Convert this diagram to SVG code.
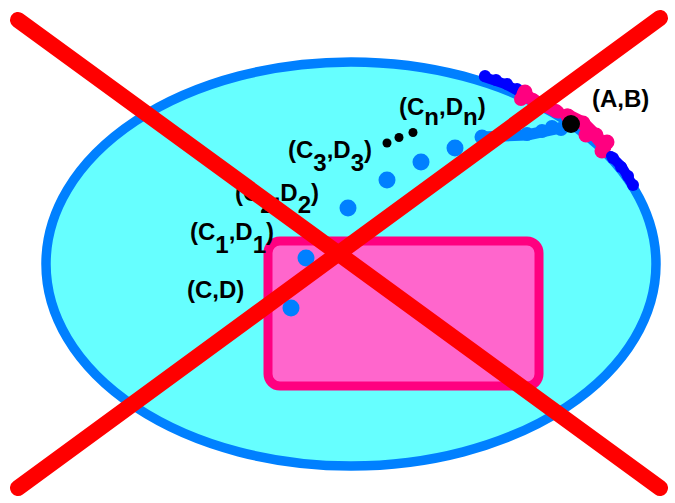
<svg xmlns="http://www.w3.org/2000/svg" width="675" height="503" viewBox="0 0 675 503">
<style>
.lbl{font-family:"Liberation Sans",Arial,sans-serif;font-weight:bold;font-size:24px;fill:#000}
.dot{fill:#0080ff}
.db{fill:#0000ff}
.pk{fill:#ff0080}
.x{stroke:#ff0000;stroke-width:16;stroke-linecap:round;fill:none}
</style>
<rect width="675" height="503" fill="#ffffff"/>
<g id="ellipse">
<ellipse cx="351" cy="264" rx="305" ry="202" fill="#66ffff" stroke="#0080ff" stroke-width="9.5"/>
</g>
<g id="rect">
<rect x="268" y="241" width="271" height="145" rx="12" fill="#ff66cc" stroke="#ff0080" stroke-width="9"/>
</g>
<g id="boundary">
<polyline points="484,77 505,84 520,92" fill="none" stroke="#0000ff" stroke-width="10" stroke-linecap="round" stroke-linejoin="round"/>
<circle class="db" cx="485" cy="76" r="6"/><circle class="db" cx="496" cy="80" r="6"/><circle class="db" cx="507" cy="84" r="6"/><circle class="db" cx="517" cy="89" r="6"/>
<polyline points="523,94 535,101 558,112" fill="none" stroke="#ff0080" stroke-width="13" stroke-linecap="round" stroke-linejoin="round"/>
<circle class="pk" cx="525" cy="92" r="7.5"/><circle class="pk" cx="521" cy="99" r="7"/><circle class="pk" cx="533" cy="100" r="7"/><circle class="pk" cx="546" cy="106" r="7"/><circle class="pk" cx="556" cy="111" r="7"/>
<polyline points="482,137 527,135 560,128" fill="none" stroke="#0080ff" stroke-width="11" stroke-linecap="round" stroke-linejoin="round"/>
<circle class="dot" cx="482" cy="137" r="7.5"/><circle class="dot" cx="527" cy="134" r="7"/><circle class="dot" cx="542" cy="131" r="7"/><circle class="dot" cx="552" cy="127" r="7"/><circle class="dot" cx="561" cy="129" r="7"/>
<polyline points="567,115 583,123 595,135 605,147" fill="none" stroke="#ff0080" stroke-width="13" stroke-linecap="round" stroke-linejoin="round"/>
<circle class="pk" cx="568" cy="116" r="7.5"/><circle class="pk" cx="583" cy="123" r="7.5"/><circle class="pk" cx="586" cy="135" r="7.5"/><circle class="pk" cx="596" cy="135" r="7.5"/><circle class="pk" cx="607" cy="142" r="7.5"/><circle class="pk" cx="602" cy="151" r="7.5"/>
<polyline points="611,156 622,167 632,184" fill="none" stroke="#0000ff" stroke-width="10" stroke-linecap="round" stroke-linejoin="round"/>
<circle class="db" cx="613" cy="158" r="6"/><circle class="db" cx="621" cy="167" r="6"/><circle class="db" cx="628" cy="176" r="6"/><circle class="db" cx="633" cy="185" r="6"/>
</g>
<g id="point-AB">
<circle cx="571" cy="124" r="9" fill="#000"/>
<text class="lbl" x="592" y="107">(A,B)</text>
</g>
<g id="points">
<circle class="dot" cx="291" cy="308" r="8.5"/>
<circle class="dot" cx="306" cy="258" r="8.5"/>
<circle class="dot" cx="348" cy="208" r="8.5"/>
<circle class="dot" cx="387" cy="180" r="8.5"/>
<circle class="dot" cx="421" cy="162" r="8.5"/>
<circle class="dot" cx="455" cy="148" r="8.5"/>
<circle cx="387" cy="143" r="4.5" fill="#000"/>
<circle cx="399" cy="137.5" r="4.5" fill="#000"/>
<circle cx="413" cy="132.5" r="4.5" fill="#000"/>
</g>
<g id="labels">
<text class="lbl" x="187" y="298">(C,D)</text>
<text class="lbl" x="190" y="240">(C<tspan dy="13">1</tspan><tspan dy="-13">,D</tspan><tspan dy="13">1</tspan><tspan dy="-13">)</tspan></text>
<text class="lbl" x="235" y="201">(C<tspan dy="12">2</tspan><tspan dy="-12">,D</tspan><tspan dy="12">2</tspan><tspan dy="-12">)</tspan></text>
<text class="lbl" x="288" y="158">(C<tspan dy="13">3</tspan><tspan dy="-13">,D</tspan><tspan dy="13">3</tspan><tspan dy="-13">)</tspan></text>
<text class="lbl" x="399" y="115">(C<tspan dy="10">n</tspan><tspan dy="-10">,D</tspan><tspan dy="10">n</tspan><tspan dy="-10">)</tspan></text>
</g>
<g id="cross">
<line class="x" x1="18" y1="20" x2="660" y2="488"/>
<line class="x" x1="660" y1="18" x2="18" y2="488"/>
</g>
</svg>
